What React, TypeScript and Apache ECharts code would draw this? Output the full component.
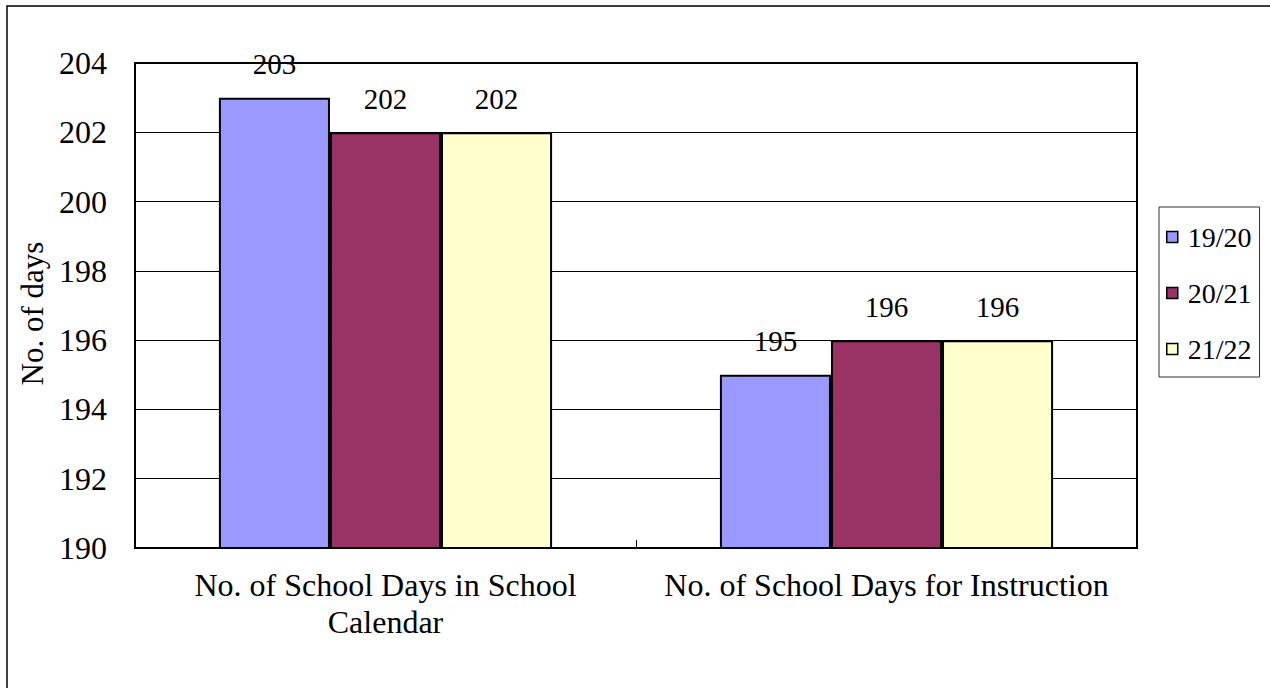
import React, { useEffect, useRef } from "react";
import * as echarts from "echarts";

const categories = [
  "No. of School Days in School\nCalendar",
  "No. of School Days for Instruction",
];
const seriesNames = ["19/20", "20/21", "21/22"];
const seriesValues = [
  [203, 195],
  [202, 196],
  [202, 196],
];
const seriesColors = ["#9999FF", "#993366", "#FFFFCC"];
const yMin = 190;
const yMax = 204;
const yStep = 2;
const yAxisTitle = "No. of days";

const FONT = "Liberation Serif, Times New Roman, serif";

export default function App() {
  const ref = useRef<HTMLDivElement>(null);

  useEffect(() => {
    if (!ref.current) return;
    const chart = echarts.init(ref.current, undefined, { renderer: "svg" });

    const option: echarts.EChartsOption = {
      animation: false,
      backgroundColor: "#ffffff",
      textStyle: { fontFamily: FONT, color: "#000" },
      graphic: [
        {
          type: "rect",
          shape: { x: 7, y: 6, width: 1400, height: 900 },
          style: { fill: "none", stroke: "#000", lineWidth: 1.5 },
          silent: true,
        },
      ],
      grid: {
        left: 135,
        top: 63,
        right: 133,
        bottom: 140,
        show: true,
        borderColor: "#000",
        borderWidth: 2,
        backgroundColor: "transparent",
      },
      legend: {
        orient: "vertical",
        left: 1159,
        top: 207,
        padding: [16, 8, 14, 7],
        itemGap: 28,
        itemWidth: 11,
        itemHeight: 11,
        icon: "rect",
        borderColor: "#333",
        borderWidth: 1,
        itemStyle: { borderColor: "#000", borderWidth: 1.5 },
        textStyle: {
          fontFamily: FONT,
          fontSize: 28,
          lineHeight: 27,
          color: "#000",
          padding: [0, 0, 0, 5],
        },
        data: seriesNames,
      },
      xAxis: {
        type: "category",
        data: categories,
        axisLine: { show: true, lineStyle: { color: "#000", width: 2 } },
        axisTick: {
          show: true,
          inside: true,
          length: 8,
          lineStyle: { color: "#000", width: 1 },
        },
        axisLabel: {
          interval: 0,
          fontFamily: FONT,
          fontSize: 32,
          lineHeight: 37,
          color: "#000",
          margin: 18,
        },
      },
      yAxis: {
        type: "value",
        min: yMin,
        max: yMax,
        interval: yStep,
        name: yAxisTitle,
        nameLocation: "middle",
        nameGap: 78,
        nameTextStyle: {
          fontFamily: FONT,
          fontSize: 31,
          color: "#000",
          padding: [0, 16, 0, 0],
        },
        axisLine: { show: true, lineStyle: { color: "#000", width: 2 } },
        axisTick: {
          show: true,
          inside: true,
          length: 7,
          lineStyle: { color: "#000", width: 1 },
        },
        splitLine: { show: true, lineStyle: { color: "#000", width: 1 } },
        axisLabel: {
          fontFamily: FONT,
          fontSize: 32,
          color: "#000",
          margin: 28,
        },
      },
      series: seriesNames.map((name, i) => ({
        name,
        type: "bar",
        data: seriesValues[i],
        barGap: "0%",
        barCategoryGap: "33.5%",
        itemStyle: {
          color: seriesColors[i],
          borderColor: "#000",
          borderWidth: 2,
        },
        label: {
          show: true,
          position: "top",
          distance: 19,
          fontFamily: FONT,
          fontSize: 29,
          color: "#000",
        },
      })),
    };

    chart.setOption(option);
    return () => chart.dispose();
  }, []);

  return (
    <div
      ref={ref}
      style={{ position: "fixed", left: 0, top: 0, width: 1270, height: 688 }}
    />
  );
}
